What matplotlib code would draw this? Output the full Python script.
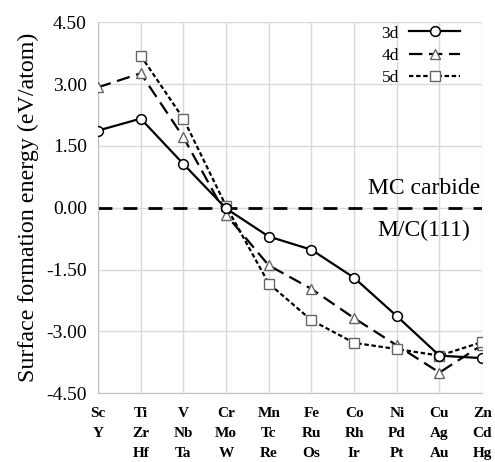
import matplotlib

matplotlib.use("Agg")
import matplotlib.pyplot as plt


rows_3d = ["Sc", "Ti", "V", "Cr", "Mn", "Fe", "Co", "Ni", "Cu", "Zn"]
rows_4d = ["Y", "Zr", "Nb", "Mo", "Tc", "Ru", "Rh", "Pd", "Ag", "Cd"]
rows_5d = ["", "Hf", "Ta", "W", "Re", "Os", "Ir", "Pt", "Au", "Hg"]

energy_3d = [1.87, 2.16, 1.06, -0.02, -0.70, -1.02, -1.70, -2.63, -3.59, -3.65]
energy_4d = [2.92, 3.26, 1.71, -0.17, -1.40, -1.97, -2.68, -3.34, -4.00, -3.33]
energy_5d = [None, 3.69, 2.16, 0.04, -1.84, -2.73, -3.28, -3.43, -3.59, -3.26]

y_ticks = [4.5, 3.0, 1.5, 0.0, -1.5, -3.0, -4.5]

plt.rcParams["font.family"] = ["Liberation Serif", "DejaVu Serif"]

fig = plt.figure(figsize=(4.95, 4.62), dpi=100)
ax = fig.add_axes([0.198, 0.149, 0.776, 0.803])

x = list(range(len(rows_3d)))
x_5d = [i for i, v in zip(x, energy_5d) if v is not None]
y_5d = [v for v in energy_5d if v is not None]

ax.axhline(0, color="black", linewidth=2, linestyle=(0, (5, 4)), zorder=2)

ax.plot(x, energy_3d, color="black", linewidth=1.6, marker="o", markersize=7,
        markerfacecolor="white", markeredgecolor="black", markeredgewidth=1.1,
        label="3d", zorder=4)
ax.plot(x, energy_4d, color="black", linewidth=1.6, linestyle=(0, (6, 3)),
        marker="^", markersize=7, markerfacecolor="white",
        markeredgecolor="#666666", markeredgewidth=1.0, label="4d", zorder=3)
ax.plot(x_5d, y_5d, color="black", linewidth=1.6, linestyle=(0, (2, 1.2)),
        marker="s", markersize=7, markerfacecolor="white",
        markeredgecolor="#666666", markeredgewidth=1.0, label="5d", zorder=3)

ax.set_xlim(0, 9)
ax.set_ylim(-4.5, 4.5)
ax.set_yticks(y_ticks, [f"{v:.2f}" for v in y_ticks], fontsize=14)
labels = [f"{a}\n{b}\n{c}" for a, b, c in zip(rows_3d, rows_4d, rows_5d)]
ax.set_xticks(x, labels, fontsize=11, fontweight="bold", linespacing=1.68,
              va="top")
ax.tick_params(length=0, pad=8)
ax.tick_params(axis="x", pad=10)
ax.grid(color="#d9d9d9", linewidth=1)
ax.set_axisbelow(True)
for side in ["top", "right"]:
    ax.spines[side].set_visible(False)
for side in ["left", "bottom"]:
    ax.spines[side].set_color("#c0c0c0")

ax.set_ylabel("Surface formation energy (eV/atom)", fontsize=17.3, labelpad=5)

ax.text(8.95, 0.22, "MC carbide", ha="right", va="bottom", fontsize=17)
ax.text(8.73, -0.3, "M/C(111)", ha="right", va="top", fontsize=17)

ax.legend(loc="upper right", frameon=False, markerfirst=False, fontsize=12.5,
          handlelength=2.9, handletextpad=0.6, labelspacing=0.35,
          borderaxespad=0.0, bbox_to_anchor=(0.96, 1.01))

fig.savefig("out.png", dpi=100)
